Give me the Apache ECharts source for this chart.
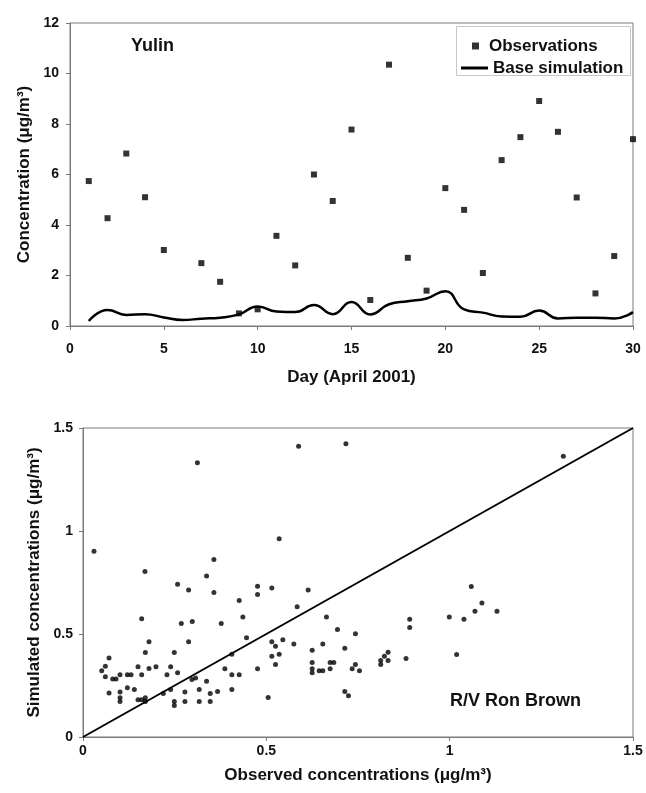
<!DOCTYPE html>
<html>
<head>
<meta charset="utf-8">
<script src="https://cdn.jsdelivr.net/npm/echarts@6/dist/echarts.min.js"></script>
<style>
html,body{margin:0;padding:0;background:#fff;}
#chart{width:646px;height:793px;}
</style>
</head>
<body>
<div id="chart"></div>
<script>
// ---- Top panel: Yulin ----
var obsDays = [1,2,3,4,5,7,8,9,10,11,12,13,14,15,16,17,18,19,20,21,22,23,24,25,26,27,28,29,30];
var obsValues = [5.74,4.27,6.83,5.10,3.01,2.49,1.75,0.50,0.66,3.57,2.40,6.00,4.95,7.78,1.03,10.35,2.70,1.40,5.46,4.60,2.10,6.57,7.48,8.91,7.69,5.09,1.29,2.77,7.40];
var simDays = [1,2,3,4,5,6,7,8,9,10,11,12,13,14,15,16,17,18,19,20,21,22,23,24,25,26,27,28,29,30];
var simValues = [0.20,0.63,0.44,0.47,0.34,0.24,0.29,0.33,0.46,0.77,0.57,0.55,0.83,0.47,0.95,0.46,0.86,0.98,1.09,1.38,0.66,0.53,0.38,0.37,0.61,0.30,0.33,0.33,0.30,0.55];
var topXTicks = [0,5,10,15,20,25,30];
var topYTicks = [0,2,4,6,8,10,12];

// ---- Bottom panel: R/V Ron Brown ----
var observedConc = [
  0.312,0.588,0.717,1.310,
  0.030,0.169,0.337,0.258,0.288,0.160,0.268,0.298,0.180,0.288,0.170,0.249,0.071,0.061,0.051,0.061,
  0.081,0.090,0.101,0.121,0.131,0.150,0.160,0.180,0.199,0.239,0.229,0.258,0.297,0.307,0.337,0.071,
  0.101,0.101,0.101,0.121,0.140,0.150,0.160,0.170,0.170,0.219,0.239,0.249,0.249,0.278,0.278,0.317,
  0.317,0.347,
  0.535,0.357,0.357,0.476,0.476,0.515,0.614,0.426,0.436,0.584,0.377,0.664,0.446,0.515,0.525,0.545,
  0.575,0.654,0.406,0.515,0.535,0.525,0.625,0.625,0.625,0.625,0.644,0.654,0.387,0.476,0.406,0.426,
  0.367,0.347,0.406,0.505,
  0.891,0.891,0.999,0.694,0.743,0.714,0.674,0.684,0.674,0.734,0.743,0.754,0.714,0.724,0.812,0.812,
  0.822,0.832,0.832,0.881,
  1.059,1.088,1.069,1.129,1.039,1.019
];
var simulatedConc = [
  1.331,1.412,1.423,1.363,
  0.902,0.803,0.782,0.742,0.713,0.574,0.551,0.561,0.462,0.462,0.410,0.410,0.383,0.344,0.321,0.292,
  0.281,0.281,0.302,0.302,0.302,0.341,0.302,0.333,0.341,0.341,0.302,0.312,0.279,0.287,0.271,0.214,
  0.219,0.190,0.172,0.239,0.231,0.181,0.181,0.190,0.172,0.211,0.231,0.172,0.153,0.219,0.172,0.231,
  0.172,0.172,
  0.962,0.862,0.701,0.732,0.692,0.723,0.713,0.663,0.582,0.632,0.551,0.582,0.482,0.462,0.441,0.472,
  0.452,0.452,0.402,0.392,0.402,0.352,0.421,0.362,0.331,0.312,0.321,0.321,0.331,0.331,0.302,0.302,
  0.221,0.211,0.231,0.192,
  0.572,0.532,0.582,0.522,0.501,0.431,0.362,0.362,0.331,0.331,0.352,0.321,0.221,0.200,0.371,0.352,
  0.392,0.412,0.371,0.381,
  0.731,0.651,0.611,0.611,0.572,0.400
];
var oneToOneX = [0, 1.5];
var oneToOneY = [0, 1.5];
var bottomTicks = [0, 0.5, 1, 1.5];

function pairs(xs, ys) {
  var out = [];
  for (var i = 0; i < xs.length; i++) { if (ys[i] != null) out.push([xs[i], ys[i]]); }
  return out;
}

var FONT = "'Liberation Sans', Arial, sans-serif";
var AXIS_GRAY = '#7a7a7a';

function axisCommon(opts) {
  var base = {
    type: 'value',
    splitLine: {show: false},
    axisLine: {show: true, onZero: false, lineStyle: {color: AXIS_GRAY, width: 1}},
    axisTick: {show: true, inside: false, length: 4, lineStyle: {color: AXIS_GRAY}},
    axisLabel: {color: '#111', fontFamily: FONT, fontWeight: 'bold', fontSize: 14},
    nameLocation: 'middle',
    nameTextStyle: {color: '#111', fontFamily: FONT, fontWeight: 'bold', fontSize: 17}
  };
  for (var k in opts) base[k] = opts[k];
  return base;
}

var chart = echarts.init(document.getElementById('chart'), null, {renderer: 'canvas'});
chart.setOption({
  backgroundColor: '#fff',
  animation: false,
  grid: [
    {left: 70, top: 23, width: 563, height: 303, show: true, borderColor: AXIS_GRAY, borderWidth: 1, backgroundColor: '#fff'},
    {left: 83, top: 428, width: 550, height: 309, show: true, borderColor: AXIS_GRAY, borderWidth: 1, backgroundColor: '#fff'}
  ],
  xAxis: [
    axisCommon({gridIndex: 0, min: topXTicks[0], max: topXTicks[topXTicks.length-1], interval: 5,
      name: 'Day (April 2001)', nameGap: 43,
      axisLabel: {color: '#111', fontFamily: FONT, fontWeight: 'bold', fontSize: 14, margin: 16}}),
    axisCommon({gridIndex: 1, min: bottomTicks[0], max: bottomTicks[bottomTicks.length-1], interval: 0.5,
      name: 'Observed concentrations (\u03bcg/m\u00b3)', nameGap: 30,
      axisLabel: {color: '#111', fontFamily: FONT, fontWeight: 'bold', fontSize: 14, margin: 7}})
  ],
  yAxis: [
    axisCommon({gridIndex: 0, min: topYTicks[0], max: topYTicks[topYTicks.length-1], interval: 2,
      name: 'Concentration (\u03bcg/m\u00b3)', nameGap: 33,
      axisLabel: {color: '#111', fontFamily: FONT, fontWeight: 'bold', fontSize: 14, margin: 11}}),
    axisCommon({gridIndex: 1, min: bottomTicks[0], max: bottomTicks[bottomTicks.length-1], interval: 0.5,
      name: 'Simulated concentrations (\u03bcg/m\u00b3)', nameGap: 36,
      axisLabel: {color: '#111', fontFamily: FONT, fontWeight: 'bold', fontSize: 14, margin: 10}})
  ],
  legend: [
    {left: 467, top: 31, orient: 'vertical', itemWidth: 7, itemHeight: 7,
     data: [{name: 'Observations', icon: 'rect'}],
     textStyle: {color: '#111', fontFamily: FONT, fontWeight: 'bold', fontSize: 17, padding: [0,0,0,5], lineHeight: 20}},
    {left: 456, top: 53, orient: 'vertical', itemWidth: 27, itemHeight: 3,
     data: [{name: 'Base simulation', icon: 'rect'}],
     textStyle: {color: '#111', fontFamily: FONT, fontWeight: 'bold', fontSize: 17, lineHeight: 20}}
  ],
  graphic: [
    {type: 'rect', left: 456, top: 26, z: 0, shape: {width: 174, height: 49},
     style: {fill: '#fff', stroke: '#c8c8c8', lineWidth: 1}},
    {type: 'text', left: 131, top: 37, style: {text: 'Yulin', fill: '#111', font: 'bold 18px ' + FONT}},
    {type: 'text', left: 450, top: 692, style: {text: 'R/V Ron Brown', fill: '#111', font: 'bold 18px ' + FONT}}
  ],
  series: [
    {name: 'Observations', type: 'scatter', xAxisIndex: 0, yAxisIndex: 0,
     symbol: 'rect', symbolSize: 6, itemStyle: {color: '#000'},
     data: pairs(obsDays, obsValues), z: 5},
    {name: 'Base simulation', type: 'line', xAxisIndex: 0, yAxisIndex: 0,
     showSymbol: false, symbol: 'none', smooth: 0.5,
     lineStyle: {color: '#000', width: 2.5}, itemStyle: {color: '#000'},
     data: pairs(simDays, simValues), z: 4},
    {name: 'Ron Brown', type: 'scatter', xAxisIndex: 1, yAxisIndex: 1,
     symbol: 'circle', symbolSize: 5, itemStyle: {color: '#000'},
     data: pairs(observedConc, simulatedConc), z: 5},
    {name: '1:1', type: 'line', xAxisIndex: 1, yAxisIndex: 1,
     showSymbol: false, symbol: 'none',
     lineStyle: {color: '#000', width: 2}, data: pairs(oneToOneX, oneToOneY), z: 4}
  ]
});
</script>
</body>
</html>
